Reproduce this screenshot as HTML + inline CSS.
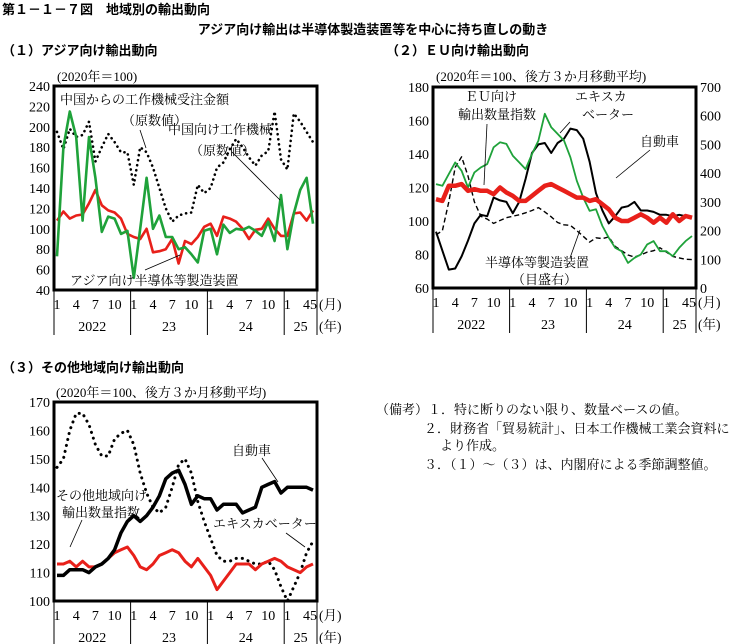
<!DOCTYPE html>
<html><head><meta charset="utf-8"><style>
body{margin:0;background:#fff;}
svg{display:block;font-family:"Liberation Serif","Noto Serif CJK JP",serif;}
.g{font-family:"Liberation Sans","Noto Sans CJK JP",sans-serif;font-weight:bold;}
</style></head><body>
<svg id="s" width="746" height="644" viewBox="0 0 746 644">
<text class="g" x="2" y="14" font-size="13">第１－１－７図　地域別の輸出動向</text>
<text class="g" x="373" y="34" font-size="13" text-anchor="middle">アジア向け輸出は半導体製造装置等を中心に持ち直しの動き</text>
<text class="g" x="2" y="55" font-size="13">（１）アジア向け輸出動向</text>
<text class="g" x="386" y="55" font-size="13">（２）ＥＵ向け輸出動向</text>
<text class="g" x="2" y="372" font-size="13">（３）その他地域向け輸出動向</text>
<g font-size="13">
<text x="376" y="414">（備考）１．特に断りのない限り、数量ベースの値。</text>
<text x="424" y="433">２．財務省「貿易統計」、日本工作機械工業会資料に</text>
<text x="440" y="450">より作成。</text>
<text x="424" y="469">３．（１）～（３）は、内閣府による季節調整値。</text>
</g>
</svg>
<script>
// Panel 1 data (Jan 2022 - May 2025)
const p1Order=[195,178,198,190,192,205,166,180,193,185,175,175,143,180,175,160,140,120,107,113,115,116,143,135,140,160,165,178,188,180,170,162,172,176,215,168,158,213,205,195,185];
const p1Green=[73,180,215,190,108,190,150,97,112,110,95,98,52,100,150,100,113,92,92,80,82,75,67,98,100,75,104,96,100,99,102,98,93,107,88,133,80,115,138,150,105];
const p1Red=[108,117,110,113,114,125,138,123,118,116,110,95,92,90,100,77,78,80,90,66,88,85,92,102,105,93,112,110,107,100,90,99,100,110,100,93,93,115,116,108,118];
const p1Ticks=[40,60,80,100,120,140,160,180,200,220,240];
// Panel 2 data
const p2Eu=[113,112,121,121,122,118,119,118,118,116,120,117,115,112,112,115,118,121,122,120,118,116,114,114,112,113,110,107,102,100,100,102,104,102,99,102,99,104,100,103,102];
const p2Esc=[122,121,128,135,130,120,129,132,134,144,147,146,139,135,131,140,148,164,156,152,148,138,124,114,106,107,97,90,84,82,75,78,80,86,88,82,82,79,84,88,91];
const p2Car=[196,130,64,68,110,165,225,255,250,315,305,300,260,300,380,470,500,505,470,505,520,555,550,520,440,330,270,225,250,280,285,300,270,270,265,255,255,250,255,250,245];
const p2Semi=[185,200,300,420,457,390,300,250,240,225,235,245,250,255,262,270,280,265,248,228,220,218,200,180,160,175,172,178,145,130,115,108,115,125,130,140,125,110,105,100,99];
const p2Left=[60,80,100,120,140,160,180];
const p2Right=[0,100,200,300,400,500,600,700];
// Panel 3 data
const p3Car=[109,109,111,111,111,110,112,113,115,118,124,128,130,128,130,133,137,143,145,146,141,134,137,136,136,132,134,134,134,131,132,133,140,141,142,138,140,140,140,140,139];
const p3Esc=[147,150,160,166,166,162,155,151,151,157,159,160,155,145,138,133,131,133,140,148,150,145,135,128,122,116,114,114,115,115,114,113,113,114,111,105,100,105,110,117,121];
const p3All=[113,113,114,112,114,112,112,113,115,117,118,119,116,112,111,113,116,117,118,117,114,112,115,112,109,104,107,110,113,113,113,111,113,114,115,114,112,111,110,112,113];
const p3Ticks=[100,110,120,130,140,150,160,170];
const monthLabels=['1','4','7','10','1','4','7','10','1','4','7','10','1'];
const yearLabels=['2022','23','24','25'];

const NS='http://www.w3.org/2000/svg';
const svg=document.getElementById('s');
function mk(tag,attrs,parent){const e=document.createElementNS(NS,tag);for(const k in attrs)e.setAttribute(k,attrs[k]);(parent||svg).appendChild(e);return e;}
function txt(x,y,s,attrs){const e=mk('text',Object.assign({x:x,y:y,'font-size':13},attrs||{}));e.textContent=s;return e;}

function panel(cfg){
  const {x0,x1,y0,y1,lo,hi}=cfg;
  const xs=i=>x0+3+i*(x1-x0-7)/40;
  const ys=v=>y1-(v-lo)/(hi-lo)*(y1-y0);
  const g=mk('g',{});
  
  
  cfg.ticks.forEach(t=>{const e=txt(x0-4,ys(t)+5,String(t),{'text-anchor':'end','font-size':14});g.appendChild(e);});
  if(cfg.rticks){const rs=v=>y1-v/700*(y1-y0);cfg.rticks.forEach(t=>{const e=txt(x1+4,rs(t)+5,String(t),{'font-size':14});g.appendChild(e);});}
  const mIdx=[0,3,6,9,12,15,18,21,24,27,30,33,36];
  mIdx.forEach((m,k)=>{const e=txt(xs(m),y1+19,monthLabels[k],{'text-anchor':'middle','font-size':14});g.appendChild(e);});
  g.appendChild(txt(xs(40)-3,y1+19,'45',{'text-anchor':'middle','font-size':14}));
  g.appendChild(txt(x1+2,y1+19,'(月)',{'font-size':13.5}));
  g.appendChild(txt(x1+2,y1+41,'(年)',{'font-size':13.5}));
  const seps=[x0,(xs(11)+xs(12))/2,(xs(23)+xs(24))/2,(xs(35)+xs(36))/2,x1];
  seps.forEach(s=>mk('line',{x1:s,x2:s,y1:y1,y2:y1+45,stroke:'#000','stroke-width':1},g));
  [0,1,2,3].forEach(k=>{const e=txt((seps[k]+seps[k+1])/2,y1+41,yearLabels[k],{'text-anchor':'middle','font-size':14});g.appendChild(e);});
  cfg.series.forEach(s=>{
    const sc=s.right?(v=>y1-v/700*(y1-y0)):ys;
    const p=mk('polyline',{points:s.d.map((v,i)=>xs(i).toFixed(1)+','+sc(v).toFixed(1)).join(' '),fill:'none',stroke:s.c,'stroke-width':s.w,'stroke-dasharray':s.dash||'none','stroke-linecap':s.cap||'butt','stroke-linejoin':'round'},g);
    
    
  });
  const r=mk('rect',{x:x0,y:y0,width:x1-x0,height:y1-y0,fill:'none',stroke:'#000','stroke-width':3},g);
  
  
  return {xs,ys,g};
}

panel({name:'panel1-chart',x0:54,x1:317,y0:86,y1:290,lo:40,hi:240,ticks:p1Ticks,series:[
 {d:p1Order,c:'#000',w:2.6,dash:'0.1 5',cap:'round',name:'china-order-line'},
 {d:p1Red,c:'#e8201a',w:2.6,name:'asia-semi-red-line'},
 {d:p1Green,c:'#1fa23a',w:2.6,name:'china-machine-green-line'}]});
panel({name:'panel2-chart',x0:433,x1:696,y0:87,y1:288,lo:60,hi:180,ticks:p2Left,rticks:p2Right,series:[
 {d:p2Semi,c:'#000',w:1.4,dash:'5 3',right:true,name:'eu-semi-dashed-line'},
 {d:p2Car,c:'#000',w:2,right:true,name:'eu-car-line'},
 {d:p2Esc,c:'#1fa23a',w:1.8,name:'eu-escalator-line'},
 {d:p2Eu,c:'#e8201a',w:4.5,name:'eu-export-index-line'}]});
panel({name:'panel3-chart',x0:54,x1:317,y0:402,y1:601,lo:100,hi:170,ticks:p3Ticks,series:[
 {d:p3Esc,c:'#000',w:3,dash:'0.1 6',cap:'round',name:'other-escalator-line'},
 {d:p3All,c:'#e8201a',w:3,name:'other-export-index-line'},
 {d:p3Car,c:'#000',w:3.5,name:'other-car-line'}]});

const ann=[
 [57,81,'(2020年＝100)'],[60,104,'中国からの工作機械受注金額'],[122,125,'（原数値）'],[168,134,'中国向け工作機械'],[190,155,'（原数値）'],[70,285,'アジア向け半導体等製造装置'],
 [436,81,'(2020年＝100、後方３か月移動平均)'],[465,101,'ＥＵ向け'],[458,119,'輸出数量指数'],[575,101,'エキスカ'],[582,119,'ベーター'],[640,146,'自動車'],[485,267,'半導体等製造装置'],[512,284,'（目盛右）'],
 [56,397,'(2020年＝100、後方３か月移動平均)'],[232,455,'自動車'],[56,500,'その他地域向け'],[62,517,'輸出数量指数'],[213,528,'エキスカベーター']
];
ann.forEach((a,i)=>{const e=txt(a[0],a[1],a[2],{'font-size':13});});
const arrows=[[140,130,146,148],[232,152,280,200],[145,270,180,255],[487,124,484,185],[570,122,560,133],[650,150,616,178],[570,258,580,230],[262,458,278,482],[286,533,305,547],[82,520,70,547]];
arrows.forEach(a=>{const l=mk('line',{x1:a[0],y1:a[1],x2:a[2],y2:a[3],stroke:'#000','stroke-width':0.8});});
</script>
</body></html>
